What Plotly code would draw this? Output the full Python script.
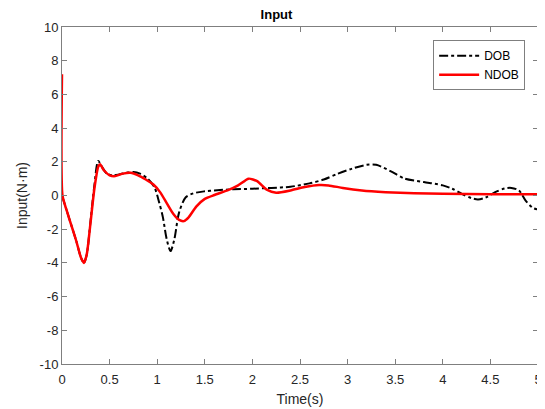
import plotly.graph_objects as go

# DOB series (black dash-dot)
t_dob = [0, 0.05, 0.10, 0.15, 0.20, 0.23, 0.26, 0.30, 0.34, 0.38, 0.42, 0.47, 0.53, 0.60,
         0.68, 0.75, 0.82, 0.90, 0.97, 1.02, 1.06, 1.10, 1.14, 1.18, 1.23, 1.30, 1.38, 1.50,
         1.60, 1.80, 2.00, 2.20, 2.40, 2.60, 2.75, 2.90, 3.05, 3.20, 3.30, 3.45, 3.60, 3.80,
         4.00, 4.10, 4.20, 4.30, 4.37, 4.45, 4.55, 4.65, 4.72, 4.80, 4.87, 4.95, 5.0]
u_dob = [0, -0.9, -1.8, -2.7, -3.7, -4.0, -3.5, -1.5, 0.6, 2.05, 1.7, 1.3, 1.2, 1.25,
         1.35, 1.4, 1.3, 1.0, 0.5, -0.4, -1.3, -2.6, -3.3, -2.6, -1.0, -0.1, 0.13, 0.25,
         0.3, 0.37, 0.4, 0.45, 0.52, 0.72, 0.95, 1.3, 1.6, 1.82, 1.82, 1.45, 1.0, 0.8,
         0.6, 0.4, 0.1, -0.15, -0.23, -0.12, 0.2, 0.42, 0.45, 0.3, -0.3, -0.75, -0.82]

# NDOB series (red solid)
t_ndob = [0, 0.005, 0.05, 0.10, 0.15, 0.20, 0.23, 0.26, 0.30, 0.34, 0.38, 0.40, 0.44, 0.50,
          0.56, 0.64, 0.72, 0.80, 0.88, 0.96, 1.03, 1.10, 1.17, 1.23, 1.28, 1.33, 1.41, 1.50,
          1.60, 1.75, 1.85, 1.96, 2.05, 2.15, 2.25, 2.40, 2.55, 2.70, 2.80, 2.95, 3.15, 3.40,
          3.70, 4.00, 4.50, 5.0]
u_ndob = [7.2, 0.0, -0.9, -1.8, -2.7, -3.7, -4.0, -3.5, -1.6, 0.4, 1.7, 1.85, 1.5, 1.2,
          1.15, 1.3, 1.35, 1.2, 0.95, 0.65, 0.2, -0.45, -1.1, -1.45, -1.52, -1.3, -0.66, -0.2,
          0.03, 0.33, 0.6, 1.0, 0.85, 0.35, 0.17, 0.3, 0.5, 0.62, 0.6, 0.45, 0.3, 0.2,
          0.13, 0.1, 0.08, 0.08]

x_ticks = [0, 0.5, 1, 1.5, 2, 2.5, 3, 3.5, 4, 4.5, 5]
x_labels = ["0", "0.5", "1", "1.5", "2", "2.5", "3", "3.5", "4", "4.5", "5"]
y_ticks = [10, 8, 6, 4, 2, 0, -2, -4, -6, -8, -10]
y_labels = [str(v) for v in y_ticks]

FONT = "Liberation Sans, Arial"

fig = go.Figure()
fig.add_trace(go.Scatter(x=t_dob, y=u_dob, mode="lines", name="DOB",
                         line=dict(color="black", width=2, dash="dashdot", shape="spline", smoothing=0.8)))
fig.add_trace(go.Scatter(x=t_ndob, y=u_ndob, mode="lines", name="NDOB",
                         line=dict(color="#ff0000", width=2.5, shape="spline", smoothing=0.6)))

axis_common = dict(showgrid=False, zeroline=False, showline=True, linecolor="#7f7f7f",
                   linewidth=1, mirror="ticks", ticks="inside", ticklen=5, tickcolor="#7f7f7f",
                   automargin=False,
                   tickfont=dict(family=FONT, size=13, color="#262626"))

fig.update_layout(
    width=537, height=401,
    margin=dict(l=54, r=7, t=19, b=45),
    paper_bgcolor="white", plot_bgcolor="white",
    title=dict(text="<b>Input</b>", x=0.5, xanchor="center", y=0.995, yanchor="top",
               font=dict(family=FONT, size=13, color="black")),
    xaxis=dict(range=[0, 5], tickvals=x_ticks, ticktext=x_labels, ticklabelstandoff=3,
               title=dict(text="Time(s)", standoff=8,
                          font=dict(family=FONT, size=14, color="#262626")),
               **axis_common),
    yaxis=dict(range=[-10, 10], tickvals=y_ticks, ticktext=y_labels,
               title=dict(text="Input(N·m)", standoff=8,
                          font=dict(family=FONT, size=14, color="#262626")),
               **axis_common),
    legend=dict(x=0.973, y=0.961, xanchor="right", yanchor="top", bgcolor="white",
                bordercolor="#7f7f7f", borderwidth=1,
                font=dict(family=FONT, size=12, color="black"),
                tracegroupgap=0, itemwidth=40),
    showlegend=True,
)

fig.write_html("out.html")
